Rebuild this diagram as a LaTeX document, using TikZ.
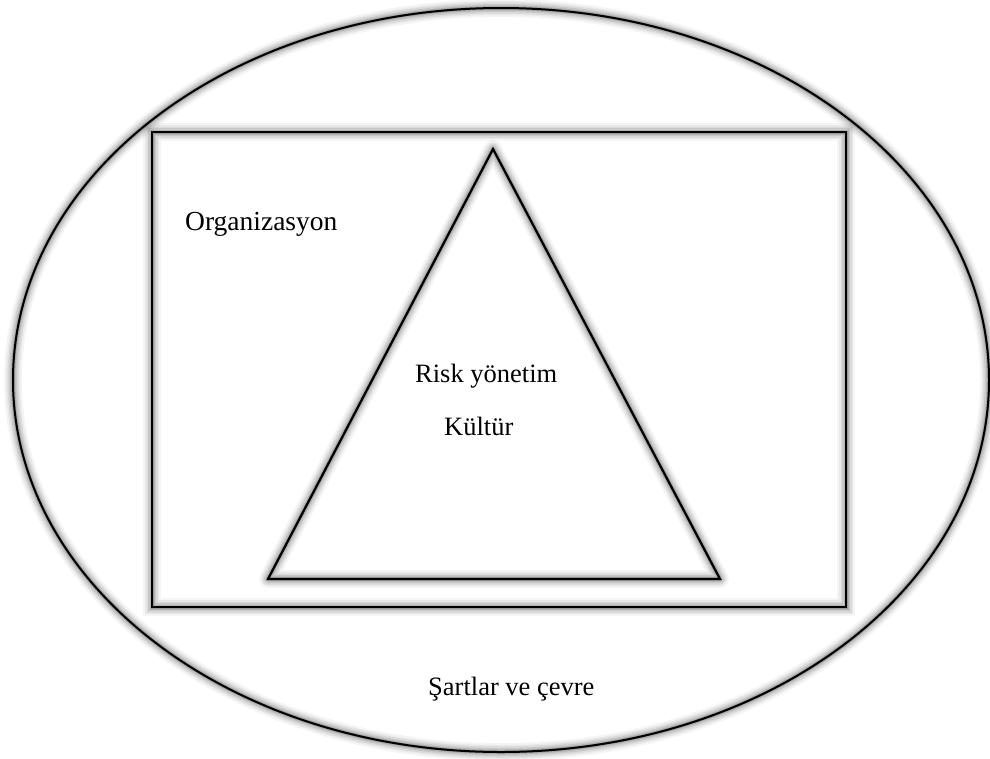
\documentclass[tikz,border=0pt]{standalone}
\usepackage{fontspec}
\setmainfont{Liberation Serif}
\begin{document}
\begin{tikzpicture}[x=1pt,y=-1pt,
  outline/.style={draw=black,line width=2.2pt},
  lbl/.style={anchor=base west,inner sep=0pt,font=\fontsize{26.5}{30}\selectfont}
]
\useasboundingbox (0,0) rectangle (990,758);
\fill[white] (0,0) rectangle (990,758);
% named geometry
\coordinate (ec) at (501,380);
\coordinate (r1) at (152,132);
\coordinate (r2) at (846,607);
\coordinate (ta) at (493,149);
\coordinate (tl) at (268,579);
\coordinate (tr) at (720,579);
% shadows
\foreach \w/\o in {18/0.04,14/0.05,11/0.06,8/0.08,5/0.10,3/0.14}{
  \begin{scope}[shift={(2,3)}]
  \draw[black,line width=\w pt,opacity=\o] (ec) ellipse [x radius=488,y radius=372];
  \draw[black,line width=\w pt,opacity=\o] (r1) rectangle (r2);
  \draw[black,line width=\w pt,opacity=\o,line join=round] (ta) -- (tl) -- (tr) -- cycle;
  \end{scope}
}
% shapes
\draw[outline,line width=2pt] (ec) ellipse [x radius=488,y radius=372];
\draw[outline,line width=2.6pt] (r1) rectangle (r2);
\draw[outline] (ta) -- (tl) -- (tr) -- cycle;
% labels
\node[lbl,font=\fontsize{27.5}{30}\selectfont] (org) at (185,230) {Organizasyon};
\node[lbl] (risk) at (415,382) {Risk yönetim};
\node[lbl] (kul) at (444,435) {Kültür};
\node[lbl] (sart) at (428,695) {Şartlar ve çevre};
\end{tikzpicture}
\end{document}
